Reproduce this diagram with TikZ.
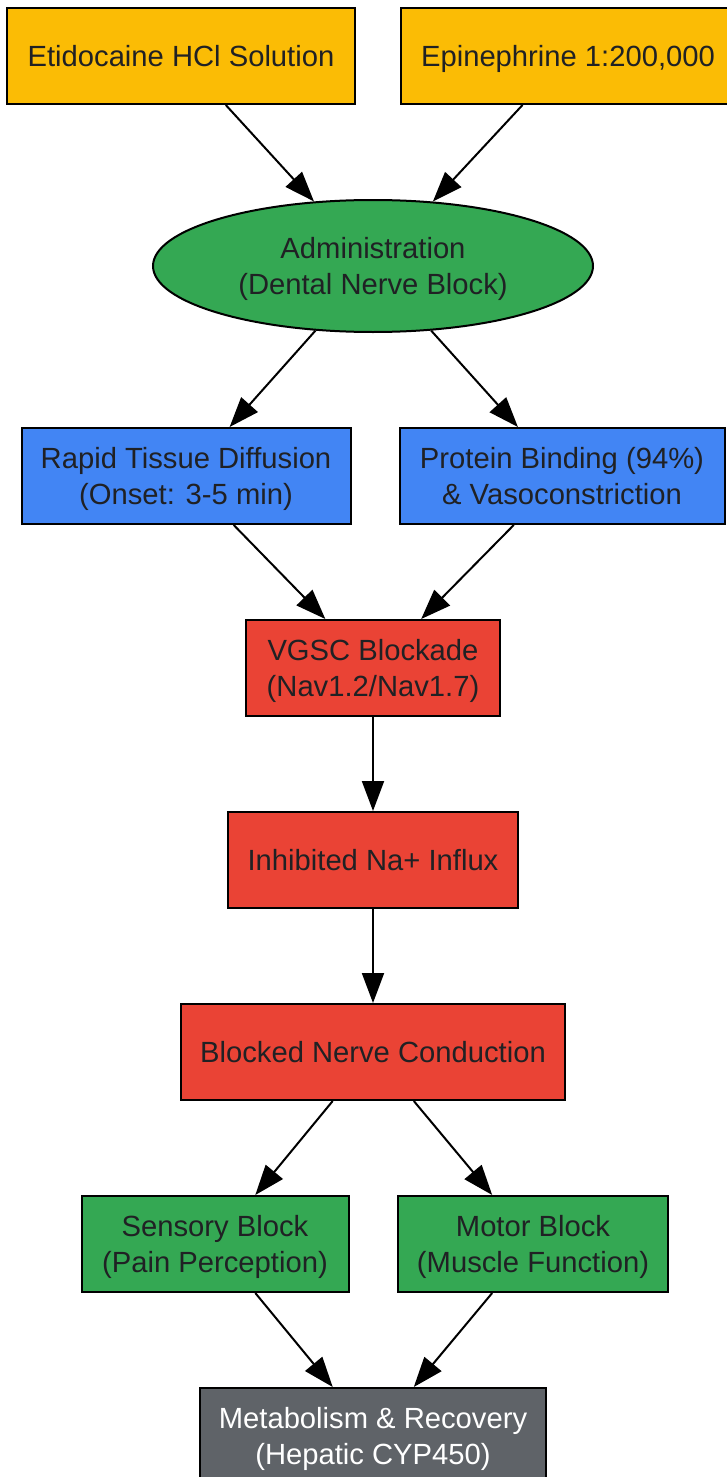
\documentclass[tikz,border=0pt]{standalone}
\usepackage{fontspec}
\setmainfont{Liberation Sans}
\usetikzlibrary{shapes.geometric,arrows.meta}
\definecolor{cyellow}{HTML}{FBBC05}
\definecolor{cgreen}{HTML}{34A853}
\definecolor{cblue}{HTML}{4285F4}
\definecolor{cred}{HTML}{EA4335}
\definecolor{cgray}{HTML}{5F6368}
\definecolor{ctext}{HTML}{202124}
\begin{document}
\begin{tikzpicture}[x=0.5pt,y=-0.5pt,
    box/.style={draw, line width=1pt, inner sep=0pt, align=center, text=ctext, text depth=0pt,
      font=\fontsize{14.6}{18}\selectfont, minimum height=48pt},
    link/.style={draw, line width=1pt, -{Triangle[length=15pt,width=11pt]}}]
  \useasboundingbox (0,0) rectangle (727,1477);
  \node [box, fill=cyellow, minimum width=174pt] (etid) at (181, 56) {Etidocaine HCl Solution};
  \node [box, fill=cyellow, minimum width=167pt] (epi) at (568, 56) {\raisebox{0pt}[\height][0pt]{Epinephrine 1:200,000}};
  \node [box, ellipse, fill=cgreen, minimum width=220pt, minimum height=66pt] (admin) at (373, 266) {Administration\\(Dental Nerve Block)};
  \node [box, fill=cblue, minimum width=164.5pt] (diff) at (186, 476) {Rapid Tissue Diffusion\\(Onset: 3-5 min)};
  \node [box, fill=cblue, minimum width=162.5pt] (bind) at (562, 476) {Protein Binding (94\%)\\\& Vasoconstriction};
  \node [box, fill=cred, minimum width=127pt] (vgsc) at (373, 668) {VGSC Blockade\\(Nav1.2/Nav1.7)};
  \node [box, fill=cred, minimum width=145pt] (influx) at (373, 860) {Inhibited Na+ Influx};
  \node [box, fill=cred, minimum width=192pt] (cond) at (373, 1052) {Blocked Nerve Conduction};
  \node [box, fill=cgreen, minimum width=133.5pt] (sens) at (215, 1244) {Sensory Block\\(Pain Perception)};
  \node [box, fill=cgreen, minimum width=135pt] (motor) at (533, 1244) {Motor Block\\(Muscle Function)};
  \node [box, fill=cgray, text=white, minimum width=173pt] (metab) at (373, 1436) {Metabolism \& Recovery\\(Hepatic CYP450)};
  \foreach \a/\b in {etid/admin, epi/admin, admin/diff, admin/bind, diff/vgsc, bind/vgsc,
      vgsc/influx, influx/cond, cond/sens, cond/motor, sens/metab, motor/metab} {
    \draw [link] (\a) -- (\b);
  }
\end{tikzpicture}
\end{document}
